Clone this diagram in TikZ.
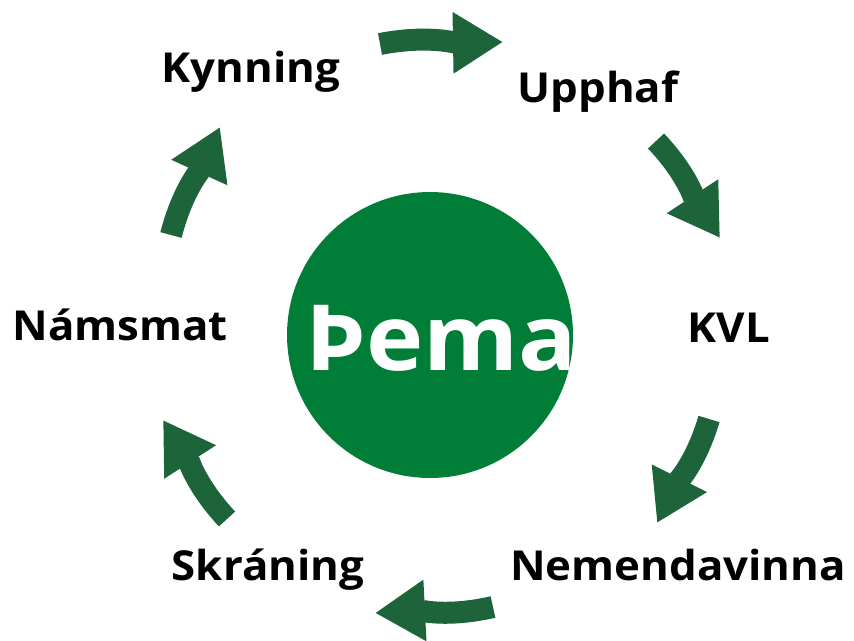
\documentclass[tikz,border=0pt]{standalone}
\usepackage{fontspec}
\setmainfont{Open Sans}[FakeStretch=1.06]
\usetikzlibrary{arrows.meta, positioning}

\definecolor{themegreen}{RGB}{0,125,55}
\definecolor{cyclegreen}{RGB}{30,100,58}

\begin{document}
\begin{tikzpicture}[
    x=0.02cm, y=0.02cm,
    stage/.style={anchor=base, inner sep=0pt, font=\fontsize{23.5}{28}\selectfont\bfseries, text=black},
    hub/.style={circle, fill=themegreen, minimum size=5.72cm, inner sep=0pt},
    cyc/.style={-{Triangle[length=1.0cm, width=1.16cm]}, line width=0.44cm, cyclegreen}
]
\useasboundingbox (0,0) rectangle (854,640);
% centre circle
\node[hub] (hub) at (430,305) {};
\node[anchor=base, inner sep=0pt, font=\fontsize{52}{60}\selectfont\bfseries, text=white] (thema) at (441,270) {Þema};
% stages
\node[stage] (kynning) at (251,557) {Kynning};
\node[stage] (upphaf) at (598,538) {Upphaf};
\node[stage] (kvl) at (729,298) {KVL};
\node[stage] (nemendavinna) at (678,60) {Nemendavinna};
\node[stage] (skraning) at (268,60) {Skráning};
\node[stage] (namsmat) at (120,300) {Námsmat};
% arrow ends
\coordinate (a1s) at (380,596); \coordinate (a1e) at (503,598);
\coordinate (a2s) at (656,499); \coordinate (a2e) at (720,402);
\coordinate (a3s) at (709,221); \coordinate (a3e) at (657,117);
\coordinate (a4s) at (493,33);  \coordinate (a4e) at (375,27);
\coordinate (a5s) at (227,121); \coordinate (a5e) at (163,220);
\coordinate (a6s) at (171,405); \coordinate (a6e) at (220,513);
\draw[cyc] (a1s) to[out=10, in=180, relative] (a1e);
\draw[cyc] (a2s) to[out=10, in=180, relative] (a2e);
\draw[cyc] (a3s) to[out=10, in=180, relative] (a3e);
\draw[cyc] (a4s) to[out=10, in=180, relative] (a4e);
\draw[cyc] (a5s) to[out=10, in=180, relative] (a5e);
\draw[cyc] (a6s) to[out=10, in=180, relative] (a6e);
\end{tikzpicture}
\end{document}
